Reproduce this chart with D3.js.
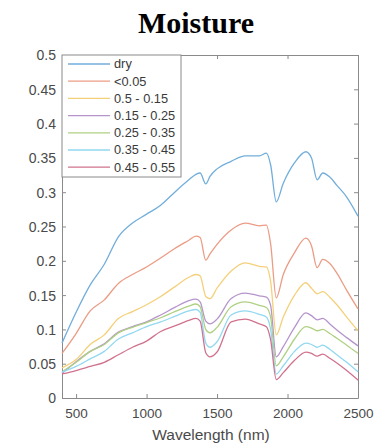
<!DOCTYPE html>
<html>
<head>
<meta charset="utf-8">
<script src="https://cdn.jsdelivr.net/npm/d3@7"></script>
<style>
  body { margin: 0; background: #fff; }
</style>
</head>
<body>
<svg id="canvas" width="385" height="447"></svg>
<script>
const wavelengths = [400, 500, 600, 700, 800, 900, 1000, 1100, 1200, 1300, 1350, 1380, 1420, 1450, 1500,
  1600, 1700, 1800, 1850, 1880, 1920, 1970, 2050, 2130, 2170, 2210, 2250, 2300, 2350, 2420, 2500];

const labels = ["dry", "<0.05", "0.5 - 0.15", "0.15 - 0.25", "0.25 - 0.35", "0.35 - 0.45", "0.45 - 0.55"];

const dry = [0.080, 0.125, 0.165, 0.195, 0.235, 0.255, 0.268, 0.281, 0.300, 0.318, 0.326, 0.328, 0.312, 0.323, 0.334,
  0.345, 0.353, 0.353, 0.357, 0.340, 0.286, 0.313, 0.343, 0.359, 0.350, 0.318, 0.328, 0.322, 0.310, 0.293, 0.265];
const m005 = [0.065, 0.094, 0.127, 0.143, 0.167, 0.180, 0.191, 0.204, 0.218, 0.230, 0.236, 0.234, 0.201, 0.210, 0.224,
  0.245, 0.255, 0.251, 0.252, 0.225, 0.146, 0.180, 0.212, 0.233, 0.222, 0.190, 0.202, 0.196, 0.182, 0.157, 0.130];
const m015 = [0.044, 0.056, 0.078, 0.092, 0.116, 0.126, 0.136, 0.148, 0.162, 0.176, 0.180, 0.178, 0.148, 0.145, 0.160,
  0.185, 0.197, 0.192, 0.191, 0.170, 0.092, 0.118, 0.150, 0.168, 0.160, 0.152, 0.155, 0.147, 0.136, 0.118, 0.098];
const m025 = [0.036, 0.053, 0.068, 0.079, 0.096, 0.104, 0.111, 0.121, 0.132, 0.142, 0.144, 0.140, 0.112, 0.108, 0.115,
  0.145, 0.153, 0.149, 0.147, 0.135, 0.060, 0.075, 0.103, 0.124, 0.120, 0.114, 0.116, 0.108, 0.099, 0.088, 0.076];
const m035 = [0.038, 0.052, 0.068, 0.078, 0.095, 0.103, 0.110, 0.117, 0.126, 0.134, 0.137, 0.133, 0.100, 0.095, 0.103,
  0.133, 0.140, 0.135, 0.132, 0.118, 0.047, 0.060, 0.086, 0.104, 0.102, 0.098, 0.100, 0.094, 0.087, 0.077, 0.065];
const m045 = [0.038, 0.046, 0.057, 0.068, 0.086, 0.095, 0.104, 0.111, 0.119, 0.127, 0.129, 0.125, 0.080, 0.074, 0.082,
  0.121, 0.127, 0.122, 0.118, 0.100, 0.035, 0.047, 0.068, 0.080, 0.078, 0.074, 0.077, 0.071, 0.063, 0.052, 0.038];
const m055 = [0.035, 0.040, 0.046, 0.052, 0.063, 0.074, 0.083, 0.097, 0.105, 0.113, 0.116, 0.112, 0.066, 0.060, 0.067,
  0.111, 0.115, 0.108, 0.104, 0.085, 0.027, 0.037, 0.055, 0.067, 0.065, 0.061, 0.064, 0.058, 0.051, 0.040, 0.026];

const xTicks = [500, 1000, 1500, 2000, 2500];
const yTicks = [0, 0.05, 0.1, 0.15, 0.2, 0.25, 0.3, 0.35, 0.4, 0.45, 0.5];

const colors = ["#72aedb", "#eb9c84", "#f4d07a", "#b694cc", "#afd083", "#92d8f0", "#d0728d"];

const m = { left: 62, top: 55, right: 27, bottom: 49 };
const W = 385, H = 447;

const svg = d3.select("#canvas");

const x = d3.scaleLinear().domain([400, 2500]).range([m.left, W - m.right]);
const y = d3.scaleLinear().domain([0, 0.5]).range([H - m.bottom, m.top]);

// title
svg.append("text")
  .attr("x", 196).attr("y", 33)
  .attr("text-anchor", "middle")
  .attr("font-family", "Liberation Serif, Times New Roman, serif")
  .attr("font-weight", "bold")
  .attr("font-size", 30)
  .attr("fill", "#000")
  .text("Moisture");

const axisColor = "#8a8a8a", textColor = "#4a4a4a";

const styleAxis = g => {
  g.select(".domain").attr("stroke", axisColor);
  g.selectAll(".tick line").attr("stroke", axisColor);
  g.selectAll(".tick text").attr("fill", textColor)
    .attr("font-family", "Liberation Sans, Arial, sans-serif");
};

svg.append("g")
  .attr("transform", `translate(0,${H - m.bottom})`)
  .call(d3.axisBottom(x).tickValues(xTicks).tickFormat(d3.format("d"))
    .tickSizeInner(-4).tickSizeOuter(0).tickPadding(10))
  .call(styleAxis)
  .call(g => g.selectAll(".tick text").attr("font-size", 13.5));

svg.append("g")
  .attr("transform", `translate(${m.left},0)`)
  .call(d3.axisLeft(y).tickValues(yTicks).tickFormat(d3.format(""))
    .tickSizeInner(-4).tickSizeOuter(0).tickPadding(6))
  .call(styleAxis)
  .call(g => g.selectAll(".tick text").attr("font-size", 14).attr("dy", "0.35em"));

// box: top and right with inward ticks
svg.append("g")
  .attr("transform", `translate(0,${m.top})`)
  .call(d3.axisTop(x).tickValues(xTicks).tickSizeInner(-4).tickSizeOuter(0).tickFormat(""))
  .call(styleAxis);

svg.append("g")
  .attr("transform", `translate(${W - m.right},0)`)
  .call(d3.axisRight(y).tickValues(yTicks).tickSizeInner(-4).tickSizeOuter(0).tickFormat(""))
  .call(styleAxis);

svg.append("text")
  .attr("x", 211).attr("y", 440)
  .attr("text-anchor", "middle")
  .attr("font-family", "Liberation Sans, Arial, sans-serif")
  .attr("font-size", 15.5)
  .attr("fill", textColor)
  .text("Wavelength (nm)");

const series = [dry, m005, m015, m025, m035, m045, m055];

const line = d3.line()
  .x((d, i) => x(wavelengths[i]))
  .y(d => y(d))
  .curve(d3.curveMonotoneX);

svg.append("g")
  .attr("class", "lines")
  .selectAll("path")
  .data(series)
  .join("path")
  .attr("d", d => line(d))
  .attr("fill", "none")
  .attr("stroke", (d, i) => colors[i])
  .attr("stroke-width", 1.3);

// legend
const legend = svg.append("g").attr("class", "legend");
legend.append("rect")
  .attr("x", m.left).attr("y", m.top)
  .attr("width", 119).attr("height", 122)
  .attr("fill", "#fff")
  .attr("stroke", axisColor);

const rows = legend.selectAll("g.row")
  .data(labels)
  .join("g")
  .attr("class", "row")
  .attr("transform", (d, i) => `translate(0,${64 + i * 17.2})`);

rows.append("line")
  .attr("x1", 68).attr("x2", 110)
  .attr("stroke", (d, i) => colors[i])
  .attr("stroke-width", 1.3);

rows.append("text")
  .attr("x", 114).attr("dy", "0.35em")
  .attr("font-family", "Liberation Sans, Arial, sans-serif")
  .attr("font-size", 12.8)
  .attr("fill", "#3a3a3a")
  .text(d => d);
</script>
</body>
</html>
